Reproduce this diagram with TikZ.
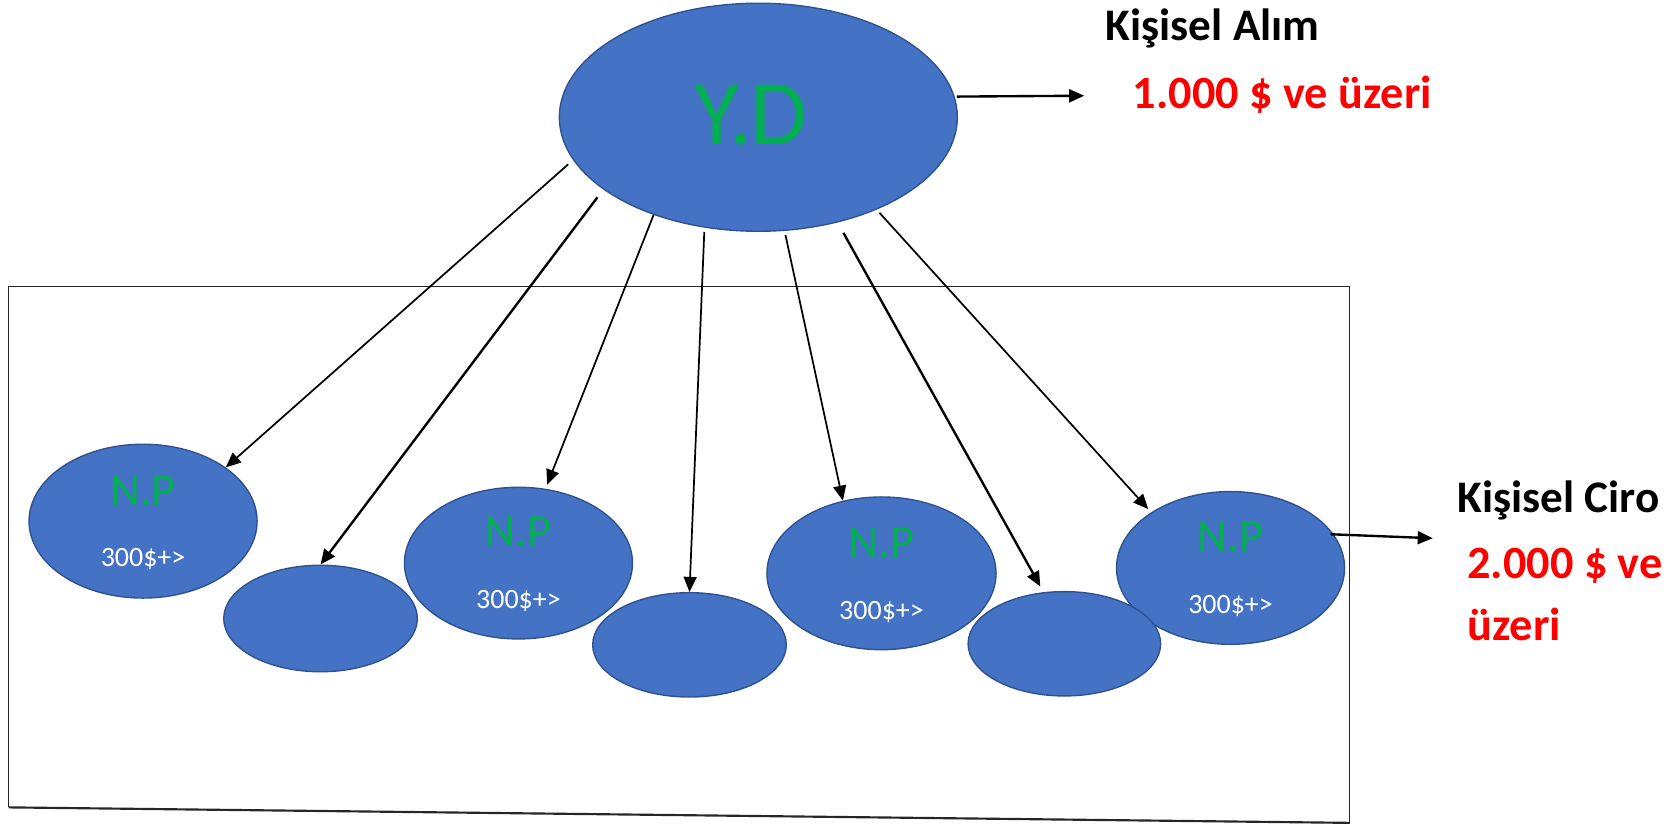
\documentclass[tikz,border=0pt]{standalone}
\usepackage{fontspec}
\setmainfont{Carlito}
\usetikzlibrary{shapes.geometric,arrows.meta,calc}
\definecolor{ofblue}{HTML}{4472C4}
\definecolor{ofbdr}{HTML}{2F528F}
\definecolor{ofgreen}{HTML}{00B050}
\definecolor{ofred}{HTML}{FF0000}
\begin{document}
\begin{tikzpicture}[x=1pt,y=-1pt,
  blob/.style={ellipse, draw=ofbdr, fill=ofblue, line width=1.3pt, inner sep=0pt},
  npblob/.style={blob, minimum width=212pt, minimum height=142pt},
  smblob/.style={blob, minimum width=180pt, minimum height=98pt},
  conn/.style={-{Triangle[length=14pt,width=12pt]}, line width=1.6pt, black},
  thick conn/.style={conn, line width=2.2pt},
  ydtext/.style={inner sep=0pt, anchor=base, text=ofgreen, font=\fontsize{86}{90}\selectfont},
  nptext/.style={inner sep=0pt, anchor=base, text=ofgreen, font=\fontsize{43}{50}\selectfont},
  valtext/.style={inner sep=0pt, anchor=base, text=white, font=\fontsize{26}{30}\selectfont},
  headlbl/.style={inner sep=0pt, anchor=base west, text=black, font=\bfseries\fontsize{42}{50}\selectfont},
  vallbl/.style={inner sep=0pt, anchor=base west, text=ofred, font=\bfseries\fontsize{43}{50}\selectfont},
  framel/.style={draw=black!85, line width=1pt}
]
\useasboundingbox (0,0) rectangle (1560,767);
% frame
\draw[framel] (8,750.6) -- (8,266.5) -- (1255,266.5) -- (1255,765);
\draw[black!85, line width=2pt] (8,750.6) -- (1255,765);

% main ellipse
\node[blob, minimum width=370pt, minimum height=212pt] (yd) at (705,109) {};
\node[ydtext] (ydt) at ($(yd.center)+(-7,25)$) {Y\kern-9pt.\kern-2pt D};

% N.P ellipses
\node[npblob, minimum height=143pt] (np1) at (133,484.5) {};
\node[npblob, minimum height=141pt] (np2) at (482,523.5) {};
\node[npblob, minimum width=213pt] (np3) at (819.5,533) {};
\node[npblob] (np4) at (1144,528) {};

% blank ellipses
\node[smblob, minimum height=99pt] (b1) at (298,575) {};
\node[smblob, minimum height=97pt] (b2) at (641,599.5) {};
\node[smblob, minimum width=179pt, minimum height=97pt] (b3) at (989.5,598.5) {};

% texts in N.P ellipses
\foreach \n in {np1,np2,np3,np4}{
  \node[nptext] (\n t) at ($(\n.center)+(0,-15)$) {N.P};
  \node[valtext] (\n v) at ($(\n.center)+(0,42.5)$) {300\$+>};
}

% side labels
\node[headlbl] (alim) at (1028,37.2) {Kişisel Alım};
\node[vallbl] (alimv) at (1053,101) {1.000 \$ ve üzeri};
\node[headlbl] (ciro) at (1355,476) {Kişisel Ciro};
\node[vallbl] (cirov) at (1364,537.6) {2.000 \$ ve};
\node[vallbl] (cirov2) at (1364,595) {üzeri};

% connectors
\draw[conn, shorten <=6pt] (yd.193.4) -- (np1.33.96);
\draw[thick conn, shorten <=9pt] (yd.205.1) -- (b1.90);
\draw[conn, shorten >=4pt] (yd.223.7) -- (np2.70.8);
\draw[conn, shorten <=4pt] (yd.244.8) -- (b2.90);
\draw[conn, shorten <=4pt] (yd.283.4) -- (np3.118.95);
\draw[thick conn, shorten <=11pt, shorten >=6pt] (yd.307.15) -- (b3.112.8);
\draw[conn, shorten <=4pt, shorten >=4pt] (yd.322.15) -- (np4.145.5);

\coordinate (alimtip) at (1008,89);
\draw[thick conn, shorten <=2pt] (yd.6.2) -- (alimtip);
\coordinate (cirotip) at (1332,500.4);
\draw[thick conn, shorten <=-3pt] (np4.18.47) -- (cirotip);
\end{tikzpicture}
\end{document}
